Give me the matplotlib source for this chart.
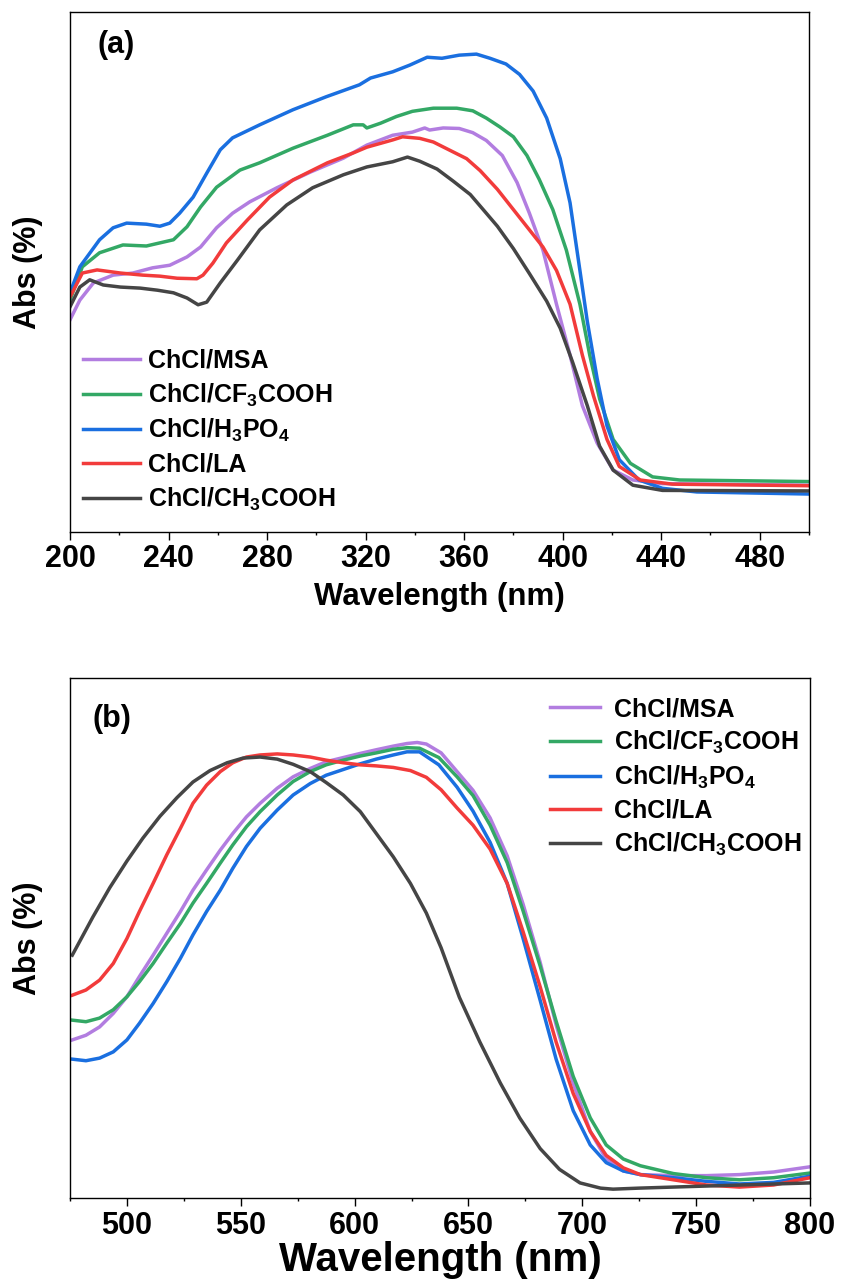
import matplotlib
matplotlib.use('Agg')
import matplotlib.pyplot as plt
from matplotlib.ticker import MultipleLocator

plt.rcParams['font.family'] = ['Liberation Sans', 'DejaVu Sans']
plt.rcParams['font.weight'] = 'bold'
plt.rcParams['mathtext.fontset'] = 'custom'
plt.rcParams['mathtext.rm'] = 'Liberation Sans:bold'
plt.rcParams['mathtext.bf'] = 'Liberation Sans:bold'
plt.rcParams['mathtext.default'] = 'bf'

labels = ['ChCl/MSA', 'ChCl/CF$_3$COOH', 'ChCl/H$_3$PO$_4$', 'ChCl/LA', 'ChCl/CH$_3$COOH']
colors = ['#B27DE0', '#33A865', '#1A6FE0', '#F23B3B', '#454545']

# ---- (a) UV region, normalised absorbance ----
wl_a_msa = [200, 204, 209.5, 217.5, 225.5, 233.5, 240.5, 247.5, 253, 259.5,
            266, 273, 284, 297.5, 311, 320.5, 331, 339, 344, 346,
            351.5, 358, 363.5, 369, 375.5, 381.5, 386.5, 392, 397.5, 403,
            408, 414, 420.5, 428.5, 440.5, 500]
abs_a_msa = [0.408, 0.446, 0.479, 0.494, 0.498, 0.508, 0.513, 0.529, 0.548, 0.585,
             0.613, 0.635, 0.662, 0.692, 0.719, 0.744, 0.763, 0.769, 0.777, 0.773,
             0.777, 0.776, 0.768, 0.753, 0.724, 0.672, 0.613, 0.542, 0.438, 0.340,
             0.243, 0.171, 0.119, 0.100, 0.093, 0.090]

wl_a_cf3 = [200, 205, 212, 221.5, 231, 242, 247.5, 253, 259.5, 269,
            277, 290.5, 304.5, 315, 319, 320.5, 326, 332.5, 339, 347.5,
            357, 363.5, 369, 374.5, 380, 385.5, 390.5, 396, 401.5, 407,
            411, 415, 420.5, 427.5, 436.5, 447.5, 500]
abs_a_cf3 = [0.446, 0.510, 0.537, 0.552, 0.550, 0.562, 0.587, 0.625, 0.663, 0.696,
             0.710, 0.738, 0.763, 0.783, 0.783, 0.777, 0.786, 0.799, 0.809, 0.815,
             0.815, 0.810, 0.796, 0.779, 0.760, 0.724, 0.678, 0.620, 0.542, 0.438,
             0.340, 0.256, 0.178, 0.132, 0.106, 0.100, 0.097]

wl_a_h3po4 = [200, 204, 212, 217.5, 223, 231, 236.5, 240.5, 244.5, 250,
              255.5, 261, 266, 277, 290.5, 304, 317.5, 322, 331, 338,
              345, 351, 358, 365, 370.5, 377, 382.5, 388, 393.5, 399,
              403, 407, 410, 414, 418, 423, 431, 440.5, 454.5, 500]
abs_a_h3po4 = [0.460, 0.510, 0.562, 0.585, 0.594, 0.592, 0.588, 0.594, 0.613, 0.644,
               0.690, 0.735, 0.758, 0.783, 0.812, 0.837, 0.860, 0.873, 0.885, 0.898,
               0.913, 0.911, 0.917, 0.919, 0.911, 0.900, 0.880, 0.848, 0.796, 0.718,
               0.633, 0.503, 0.405, 0.295, 0.204, 0.139, 0.100, 0.084, 0.077, 0.073]

wl_a_la = [200, 205, 211, 220.5, 229.5, 236.5, 243.5, 251.5, 254, 258,
           263.5, 272, 281, 290.5, 304.5, 315, 320.5, 331, 335, 342,
           347.5, 355.5, 361, 366.5, 373.5, 380, 386.5, 392, 397.5, 403,
           408, 412.5, 418, 423, 431.5, 444.5, 500]
abs_a_la = [0.452, 0.498, 0.504, 0.498, 0.494, 0.492, 0.488, 0.487, 0.494, 0.517,
            0.556, 0.600, 0.644, 0.677, 0.710, 0.729, 0.740, 0.754, 0.760, 0.757,
            0.750, 0.731, 0.718, 0.695, 0.659, 0.620, 0.581, 0.548, 0.503, 0.438,
            0.340, 0.262, 0.178, 0.126, 0.100, 0.092, 0.089]

wl_a_ch3 = [200, 204, 208, 213.5, 220.5, 228.5, 235.5, 242, 247.5, 252,
            255.5, 261, 268, 277, 288, 298.5, 311, 320.5, 331, 337,
            342, 349, 355.5, 362.5, 369, 373.5, 380, 386.5, 393.5, 399,
            404, 410, 415, 420.5, 428.5, 440.5, 500]
abs_a_ch3 = [0.433, 0.471, 0.485, 0.475, 0.471, 0.469, 0.465, 0.460, 0.450, 0.437,
             0.442, 0.479, 0.523, 0.581, 0.629, 0.662, 0.687, 0.702, 0.712, 0.721,
             0.713, 0.698, 0.675, 0.649, 0.613, 0.588, 0.545, 0.497, 0.444, 0.392,
             0.327, 0.243, 0.165, 0.119, 0.090, 0.080, 0.079]

# ---- (b) visible region ----
wl_b_msa = [476, 482, 488, 494, 500, 505.5, 511.5, 517.5, 523.5, 529,
            535, 541, 546.5, 552.5, 558.5, 566, 573, 580.5, 587.5, 595,
            602.5, 609.5, 617, 623, 627.5, 631.5, 638, 645, 652, 659.5,
            667, 674, 681.5, 688.5, 696, 703.5, 710.5, 718, 725.5, 740,
            754.5, 769, 784, 800]
abs_b_msa = [0.304, 0.313, 0.329, 0.355, 0.387, 0.426, 0.467, 0.509, 0.551, 0.592,
             0.631, 0.669, 0.701, 0.733, 0.759, 0.788, 0.810, 0.826, 0.839, 0.847,
             0.855, 0.862, 0.869, 0.874, 0.876, 0.873, 0.856, 0.820, 0.784, 0.731,
             0.658, 0.565, 0.453, 0.333, 0.221, 0.128, 0.075, 0.052, 0.045, 0.043,
             0.043, 0.045, 0.050, 0.060]

wl_b_cf3 = [476, 482, 488, 494, 500, 505.5, 511.5, 517.5, 523.5, 529,
            535, 541, 546.5, 552.5, 558.5, 566, 573, 580.5, 587.5, 595,
            602.5, 609.5, 617, 623, 628.5, 637, 645, 652, 659.5, 667,
            674, 681.5, 688.5, 696, 703.5, 710.5, 718, 725.5, 740, 754.5,
            769, 784, 800]
abs_b_cf3 = [0.342, 0.339, 0.346, 0.362, 0.387, 0.416, 0.451, 0.490, 0.528, 0.567,
             0.605, 0.644, 0.679, 0.714, 0.743, 0.775, 0.801, 0.820, 0.833, 0.842,
             0.850, 0.856, 0.863, 0.866, 0.865, 0.847, 0.810, 0.774, 0.717, 0.645,
             0.552, 0.446, 0.340, 0.234, 0.154, 0.102, 0.075, 0.062, 0.047, 0.039,
             0.035, 0.039, 0.048]

wl_b_h3po4 = wl_b_cf3
abs_b_h3po4 = [0.267, 0.264, 0.269, 0.281, 0.304, 0.336, 0.374, 0.416, 0.461, 0.506,
               0.551, 0.592, 0.634, 0.676, 0.711, 0.746, 0.775, 0.797, 0.813, 0.824,
               0.835, 0.844, 0.852, 0.858, 0.858, 0.833, 0.790, 0.744, 0.684, 0.605,
               0.499, 0.380, 0.267, 0.168, 0.102, 0.068, 0.052, 0.045, 0.039, 0.032,
               0.027, 0.030, 0.042]

wl_b_la = [476, 482, 488, 494, 500, 505.5, 511.5, 517.5, 523.5, 529,
           535, 541, 546.5, 552.5, 558.5, 566, 573, 580.5, 587.5, 595,
           602.5, 609.5, 617, 624.5, 631.5, 638, 645, 652, 659.5, 667,
           674, 681.5, 688.5, 696, 703.5, 710.5, 718, 725.5, 740, 754.5,
           769, 784, 800]
abs_b_la = [0.390, 0.400, 0.419, 0.451, 0.499, 0.551, 0.605, 0.660, 0.711, 0.759,
            0.794, 0.820, 0.837, 0.848, 0.852, 0.854, 0.852, 0.848, 0.842, 0.837,
            0.833, 0.831, 0.828, 0.822, 0.809, 0.785, 0.750, 0.717, 0.671, 0.605,
            0.512, 0.406, 0.300, 0.201, 0.128, 0.082, 0.058, 0.045, 0.035, 0.025,
            0.021, 0.025, 0.039]

wl_b_ch3 = [476, 485, 492.5, 500, 507, 514.5, 522, 529, 536.5, 544,
            551, 558.5, 566, 573, 580.5, 587.5, 595, 602.5, 609.5, 617,
            624.5, 631.5, 638, 646, 655, 664, 672.5, 681.5, 690, 699,
            708, 713.5, 725, 754.5, 800]
abs_b_ch3 = [0.467, 0.540, 0.597, 0.648, 0.692, 0.734, 0.770, 0.800, 0.822, 0.837,
             0.846, 0.848, 0.844, 0.834, 0.820, 0.799, 0.775, 0.743, 0.701, 0.656,
             0.605, 0.548, 0.481, 0.386, 0.300, 0.221, 0.154, 0.095, 0.055, 0.029,
             0.019, 0.017, 0.019, 0.023, 0.029]

series_a = [(wl_a_msa, abs_a_msa), (wl_a_cf3, abs_a_cf3), (wl_a_h3po4, abs_a_h3po4),
            (wl_a_la, abs_a_la), (wl_a_ch3, abs_a_ch3)]
series_b = [(wl_b_msa, abs_b_msa), (wl_b_cf3, abs_b_cf3), (wl_b_h3po4, abs_b_h3po4),
            (wl_b_la, abs_b_la), (wl_b_ch3, abs_b_ch3)]

fig = plt.figure(figsize=(8.41, 12.84), dpi=100)
ax1 = fig.add_axes([70/841, 1 - 532/1284, 739/841, 520/1284])
ax2 = fig.add_axes([70/841, 1 - 1198/1284, 740/841, 520/1284])


def style_axis(ax, xlim, major, minor, xlabel_size, xlabel_y):
    ax.set_xlim(*xlim)
    ax.set_ylim(0, 1)
    ax.set_yticks([])
    ax.xaxis.set_major_locator(MultipleLocator(major))
    ax.xaxis.set_minor_locator(MultipleLocator(minor))
    ax.tick_params(axis='x', which='major', direction='out', length=6, width=1,
                   labelsize=22, pad=3)
    ax.tick_params(axis='x', which='minor', direction='out', length=2.5, width=1)
    for lab in ax.get_xticklabels():
        lab.set_fontweight('bold')
    for sp in ax.spines.values():
        sp.set_linewidth(1.0)
    ax.set_xlabel('Wavelength (nm)', fontsize=xlabel_size, fontweight='bold')
    ax.xaxis.set_label_coords(0.5, xlabel_y)
    ax.set_ylabel('Abs (%)', fontsize=22, fontweight='bold')
    ax.yaxis.set_label_coords(-0.037, 0.5)


for (x, y), c, lab in zip(series_a, colors, labels):
    ax1.plot(x, y, color=c, lw=2.5, label=lab, solid_joinstyle='round')
style_axis(ax1, (200, 500), 40, 20, 22.5, -0.097)
ax1.text(0.062, 0.937, '(a)', transform=ax1.transAxes, fontsize=22,
         fontweight='bold', ha='center', va='center')
ax1.legend(loc='upper left', bbox_to_anchor=(0.018, 0.352), frameon=False,
           fontsize=18, handlelength=2.25, handletextpad=0.35, labelspacing=0.34,
           borderpad=0, borderaxespad=0)

for (x, y), c, lab in zip(series_b, colors, labels):
    ax2.plot(x, y, color=c, lw=2.5, label=lab, solid_joinstyle='round')
style_axis(ax2, (475, 800), 50, 25, 29, -0.083)
ax2.text(0.057, 0.921, '(b)', transform=ax2.transAxes, fontsize=22,
         fontweight='bold', ha='center', va='center')
ax2.legend(loc='upper left', bbox_to_anchor=(0.649, 0.963), frameon=False,
           fontsize=18, handlelength=2.0, handletextpad=0.55, labelspacing=0.31,
           borderpad=0, borderaxespad=0)

fig.savefig('out.png', dpi=100)
